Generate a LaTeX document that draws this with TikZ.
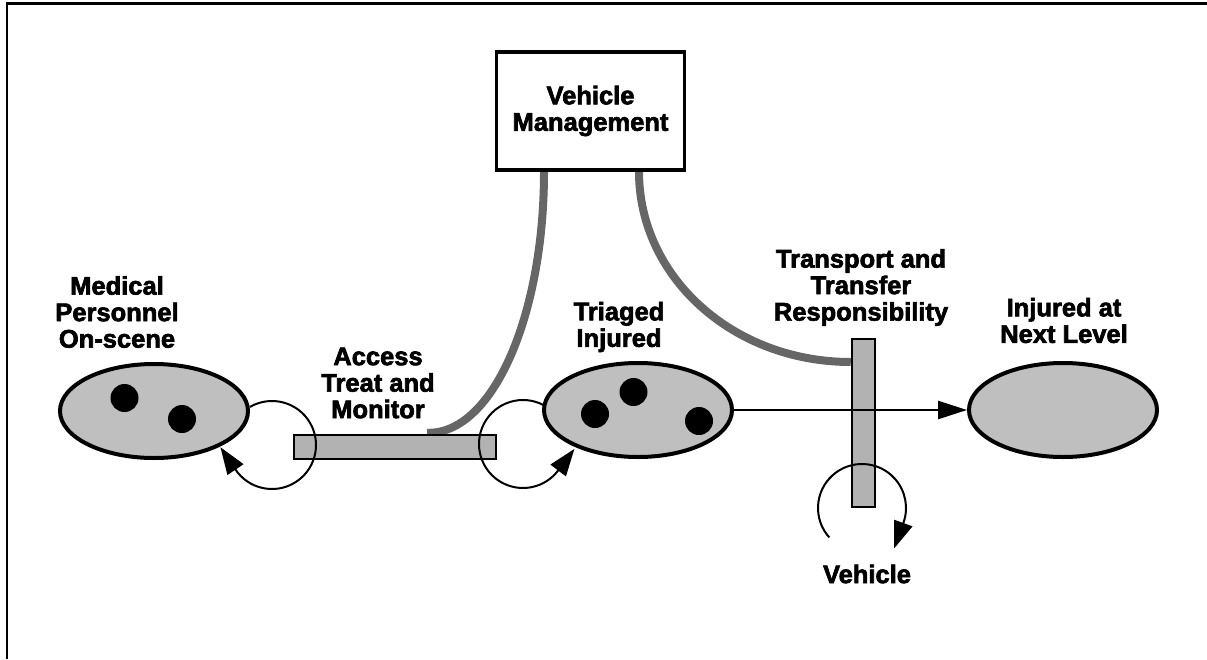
\documentclass[tikz,border=0pt]{standalone}
\usepackage{fontspec}
\setmainfont{Liberation Sans}
\newfontfamily\heavy{Liberation Sans}[BoldFont={Liberation Sans Bold},BoldFeatures={FakeBold=2.5}]
\usetikzlibrary{arrows.meta,shapes.geometric,backgrounds}

\begin{document}
\begin{tikzpicture}[x=1pt,y=-1pt,
  lbl/.style={align=center,font=\heavy\bfseries\fontsize{25.5}{26.5}\selectfont,inner sep=0pt},
  blob/.style={ellipse,draw=black,line width=4pt,fill=black!25,minimum width=188pt,minimum height=94pt,inner sep=0pt},
  dot/.style={circle,fill=black,minimum size=28pt,inner sep=0pt},
  bar/.style={rectangle,draw=black,line width=2.5pt,fill=black!30,inner sep=0pt},
  band/.style={line width=8pt,draw=black!60},
  loopline/.style={line width=2pt,-{Triangle[length=27pt,width=19pt]}},
  flow/.style={line width=2.5pt,-{Triangle[length=29pt,width=18pt]}},
]
\useasboundingbox (0,0) rectangle (1207,659);

% frame
\draw[line width=2.5pt] (7,659) -- (7,3.5) -- (1207,3.5);

% management box
\node[draw=black,line width=3.5pt,minimum width=188pt,minimum height=118pt,lbl] (vm) at (590.5,111) {Vehicle\\Management};

% activity bars
\node[bar,minimum width=202pt,minimum height=24pt] (acc) at (395,447) {};
\node[bar,minimum width=23pt,minimum height=168pt] (tt) at (863.5,423) {};

% control bands from the management box, behind the bars
\begin{scope}[on background layer]
\draw[band] ([xshift=-46.5pt]vm.south) .. controls (544,317) and (492,435) .. ([xshift=32pt,yshift=1pt]acc.north);
\draw[band] ([xshift=48.5pt]vm.south) .. controls (639,277) and (733,362) .. ([yshift=61pt]tt.west);
\end{scope}

% places
\node[blob] (med) at (154,411) {};
\node[blob] (tri) at (638,410) {};
\node[blob] (nxt) at (1063,410) {};

% tokens
\node[dot] (d1) at (124.5,398) {};
\node[dot] (d2) at (182,419) {};
\node[dot] (d3) at (633.5,392) {};
\node[dot] (d4) at (595,414) {};
\node[dot] (d5) at (699,421) {};

% loops: circular arc, then the head leaves along the tangent
\coordinate (l1) at (272,445);
\coordinate (l2) at (523,444);
\coordinate (l3) at (862,508);
\draw[loopline] (l1) ++(240:44) arc[start angle=240,end angle=506,radius=44] -- ++(236:27);
\draw[loopline] (l2) ++(-62:44) arc[start angle=-62,end angle=-323,radius=44] -- ++(-53:27);
\draw[loopline] (l3) ++(138:44) arc[start angle=138,end angle=380,radius=44] -- ++(110:27);

% transfer
\draw[flow] (tri.east) -- (nxt.west);

% labels
\node[lbl] (tmed) at (117,312) {Medical\\Personnel\\On-scene};
\node[lbl] (tacc) at (378,383) {Access\\Treat and\\Monitor};
\node[lbl] (ttri) at (619,327) {Triaged\\Injured};
\node[lbl] (ttt) at (861,287.5) {Transport and\\Transfer\\Responsibility};
\node[lbl] (tnxt) at (1064,320.5) {Injured at\\Next Level};
\node[lbl] (tveh) at (867,574) {Vehicle};
\end{tikzpicture}
\end{document}
